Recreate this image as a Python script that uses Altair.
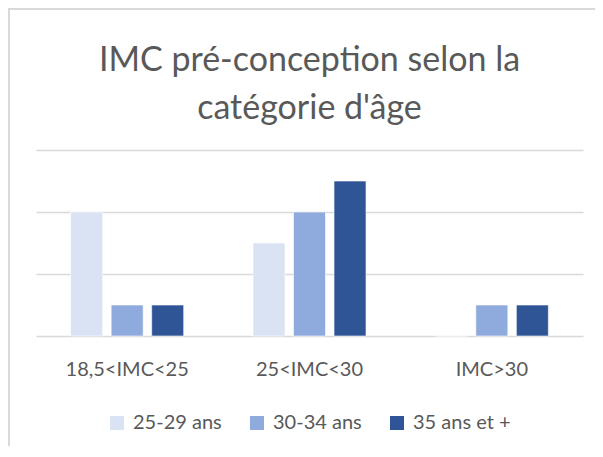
import altair as alt
import pandas as pd

categories = ["18,5<IMC<25", "25<IMC<30", "IMC>30"]
series = ["25-29 ans", "30-34 ans", "35 ans et +"]
v_25_29 = [4, 3, 0]
v_30_34 = [1, 4, 1]
v_35_plus = [1, 5, 1]
colors = ["#DAE3F3", "#8FAADC", "#2F5597"]
title_lines = ["IMC pré-conception selon la", "catégorie d'âge"]

rows = []
for s, vals in zip(series, [v_25_29, v_30_34, v_35_plus]):
    for c, v in zip(categories, vals):
        rows.append({"cat": c, "serie": s, "val": v})
df = pd.DataFrame(rows)

TXT = "#595959"
FONT = "Lato"

bars = alt.Chart(df).mark_bar(stroke="white", strokeWidth=0.6).encode(
    x=alt.X("cat:N", sort=categories,
            scale=alt.Scale(paddingInner=0, paddingOuter=0),
            axis=alt.Axis(title=None, labelAngle=0, domain=False, ticks=False, tickSize=0,
                          labelFont=FONT, labelFontSize=20, labelColor=TXT,
                          labelBaseline="middle", labelPadding=33, grid=False)),
    xOffset=alt.XOffset("serie:N", sort=series,
                        scale=alt.Scale(paddingInner=0.21, paddingOuter=0.855)),
    y=alt.Y("val:Q", scale=alt.Scale(domain=[0, 6], nice=False),
            axis=alt.Axis(title=None, labels=False, ticks=False, domain=False,
                          values=[0, 2, 4, 6], grid=True, gridColor="#D9D9D9", gridWidth=1.5)),
    color=alt.Color("serie:N", sort=series,
                    scale=alt.Scale(domain=series, range=colors),
                    legend=alt.Legend(title=None, orient="none", direction="horizontal",
                                      legendX=71, legendY=263, symbolType="square",
                                      symbolSize=196, symbolStrokeWidth=0,
                                      labelFont=FONT, labelFontSize=20, labelColor=TXT,
                                      labelOffset=6, columnPadding=25, padding=0)),
)

dummy = alt.Data(values=[{}])
title1 = alt.Chart(dummy).mark_text(font=FONT, fontSize=34, fontWeight="normal", color=TXT,
                                    align="center", baseline="alphabetic").encode(
    x=alt.value(273.5), y=alt.value(-79), text=alt.value(title_lines[0]))
title2 = alt.Chart(dummy).mark_text(font=FONT, fontSize=34, fontWeight="normal", color=TXT,
                                    align="center", baseline="alphabetic").encode(
    x=alt.value(273.5), y=alt.value(-31), text=alt.value(title_lines[1]))

border_left = alt.Chart(dummy).mark_rule(color="#D9D9D9", strokeWidth=2).encode(
    x=alt.value(-27), y=alt.value(-142), y2=alt.value(300)
)
border_top = alt.Chart(dummy).mark_rule(color="#D9D9D9", strokeWidth=2).encode(
    x=alt.value(-28), x2=alt.value(560), y=alt.value(-141)
)

chart = alt.layer(bars, title1, title2, border_left, border_top).properties(
    width=547, height=186,
    autosize=alt.AutoSizeParams(type="none"),
    padding={"left": 28, "top": 142, "right": 12, "bottom": 110},
).configure_view(stroke=None)

chart.save("out.html", embed_options={"renderer": "svg", "actions": False})
